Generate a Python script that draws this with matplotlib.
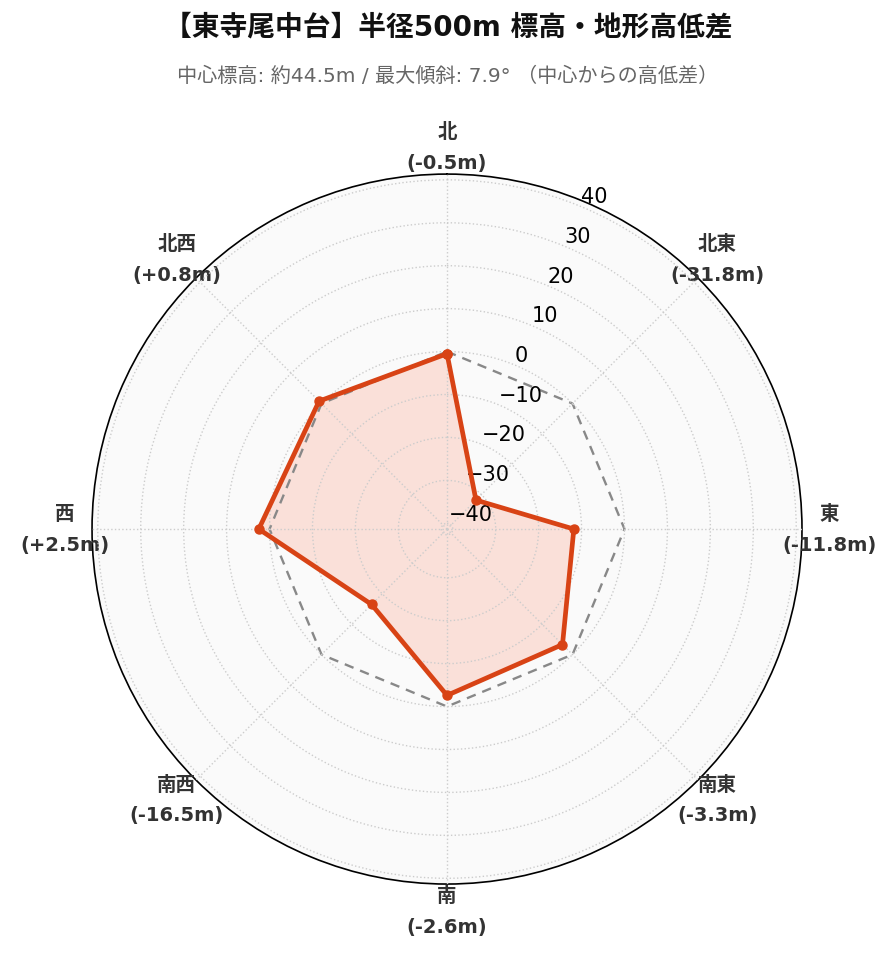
import numpy as np
import matplotlib
matplotlib.use("Agg")
import matplotlib.pyplot as plt

plt.rcParams['font.family'] = ['DejaVu Sans', 'Noto Sans CJK JP']

directions = ["北", "北東", "東", "南東", "南", "南西", "西", "北西"]
diffs = [-0.5, -31.8, -11.8, -3.3, -2.6, -16.5, 2.5, 0.8]
rticks = [-40, -30, -20, -10, 0, 10, 20, 30, 40]

title = "【東寺尾中台】半径500m 標高・地形高低差"
subtitle = "中心標高: 約44.5m / 最大傾斜: 7.9° （中心からの高低差）"

line_color = "#d84315"
lim = max(abs(v) for v in diffs) * 1.3

angles = np.linspace(0, 2 * np.pi, len(directions), endpoint=False)
ang_closed = np.append(angles, angles[0])
val_closed = np.append(diffs, diffs[0])

fig = plt.figure(figsize=(8.96, 9.62), dpi=100)
ax = fig.add_axes([0.1027, 0.080, 0.7924, 0.738], projection="polar")
ax.set_theta_zero_location("N")
ax.set_theta_direction(-1)
ax.set_facecolor("#fafafa")
ax.set_axisbelow(False)

# zero reference
ax.plot(ang_closed, np.zeros(len(ang_closed)), color="#888888", lw=1.7,
        linestyle=(0, (4, 3)), zorder=2.1)
ax.fill(ang_closed, val_closed, color="#fbd5cb", alpha=0.7, zorder=2)
ax.plot(ang_closed, val_closed, color=line_color, lw=3.4, marker="o",
        markersize=6.5, zorder=4)

ax.set_ylim(-lim, lim)
ax.set_yticks(rticks)
ax.set_yticklabels([str(t).replace("-", "\u2212") for t in rticks], fontsize=15)
ax.set_rlabel_position(22.5)

labels = [f"{d}\n({'+' if v > 0 else ''}{v}m)" for d, v in zip(directions, diffs)]
ax.set_xticks(angles)
ax.set_xticklabels(labels, fontsize=14, fontweight="bold", color="#333333",
                   linespacing=1.75)
ax.tick_params(axis="x", pad=9)

ax.grid(True, color="#cccccc", linestyle=":", lw=1.0)
ax.spines["polar"].set_color("black")
ax.spines["polar"].set_linewidth(1.2)

fig.text(0.5, 0.971, title, ha="center", va="center", fontsize=20,
         fontweight="bold", color="#111111")
fig.text(0.5, 0.921, subtitle, ha="center", va="center", fontsize=14.5,
         color="#666666")

fig.savefig("out.png", dpi=100)
